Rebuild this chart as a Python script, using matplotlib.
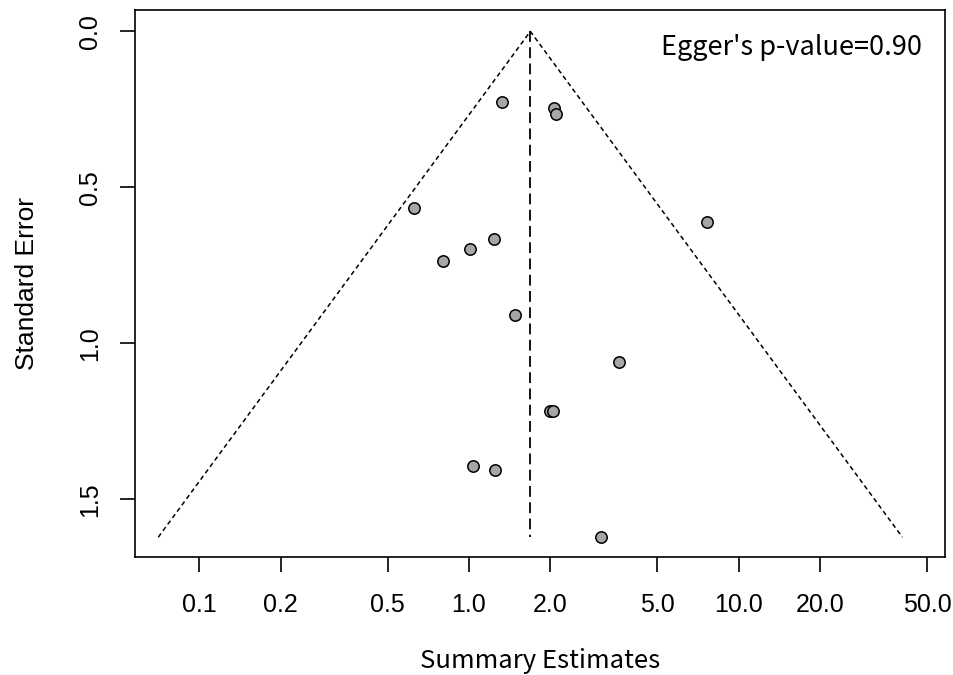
import numpy as np
import matplotlib
matplotlib.use("Agg")
import matplotlib.pyplot as plt
from matplotlib.ticker import FixedLocator, NullLocator

# Study-level effect estimates (ratio scale) and their standard errors
estimates = [1.329, 2.062, 2.098, 0.627, 7.66, 1.235, 1.006, 0.801,
             1.485, 3.612, 1.998, 2.045, 1.037, 1.252, 3.089]
std_errors = [0.2276, 0.2465, 0.2638, 0.566, 0.610, 0.6644, 0.6974, 0.735,
              0.908, 1.0587, 1.2157, 1.2157, 1.394, 1.406, 1.6215]
summary_estimate = 1.689
x_ticks = [0.1, 0.2, 0.5, 1.0, 2.0, 5.0, 10.0, 20.0, 50.0]
x_tick_labels = ["0.1", "0.2", "0.5", "1.0", "2.0", "5.0", "10.0", "20.0", "50.0"]
y_ticks = [0.0, 0.5, 1.0, 1.5]
y_tick_labels = ["0.0", "0.5", "1.0", "1.5"]
egger_label = "Egger's p-value=0.90"

W, H = 954, 675
fig = plt.figure(figsize=(W / 100, H / 100), dpi=100)
ax = fig.add_axes([135 / W, 1 - 557 / H, (945 - 135) / W, (557 - 10) / H])

ax.set_xscale("log")
ax.set_xlim(10 ** -1.239, 10 ** 1.766)
ax.set_ylim(1.685, -0.0686)

# Pseudo 95% confidence funnel
se_max = max(std_errors)
lo = np.exp(np.log(summary_estimate) - 1.96 * se_max)
hi = np.exp(np.log(summary_estimate) + 1.96 * se_max)
ax.plot([lo, summary_estimate, hi], [se_max, 0.0, se_max], color="black",
        lw=1.1, linestyle=(0, (3, 2.2)))
ax.plot([summary_estimate, summary_estimate], [0.0, se_max], color="black",
        lw=1.3, linestyle=(0, (6, 3)))

ax.plot(estimates, std_errors, linestyle="none", marker="o", markersize=8.2,
        markerfacecolor="#a6a6a6", markeredgecolor="black", markeredgewidth=1.1)

ax.xaxis.set_major_locator(FixedLocator(x_ticks))
ax.xaxis.set_minor_locator(NullLocator())
ax.set_xticklabels(x_tick_labels)
ax.set_yticks(y_ticks)
ax.set_yticklabels(y_tick_labels, rotation=90, va="center")

for lab in ax.get_xticklabels() + ax.get_yticklabels():
    lab.set_fontfamily("Liberation Sans")
    lab.set_fontsize(18)
ax.tick_params(axis="both", length=11, width=1.2, color="black")
ax.tick_params(axis="x", pad=15)
ax.tick_params(axis="y", pad=13)
for sp in ax.spines.values():
    sp.set_linewidth(1.2)

ax.set_xlabel("Summary Estimates", family="Noto Sans CJK KR", size=18.5, labelpad=22)
ax.set_ylabel("Standard Error", family="Liberation Sans", size=19, labelpad=28)

ax.text(0.9716, 0.932, egger_label, transform=ax.transAxes, ha="right", va="center",
        family="Noto Sans CJK KR", size=19.5)

fig.savefig("out.png", dpi=100)
